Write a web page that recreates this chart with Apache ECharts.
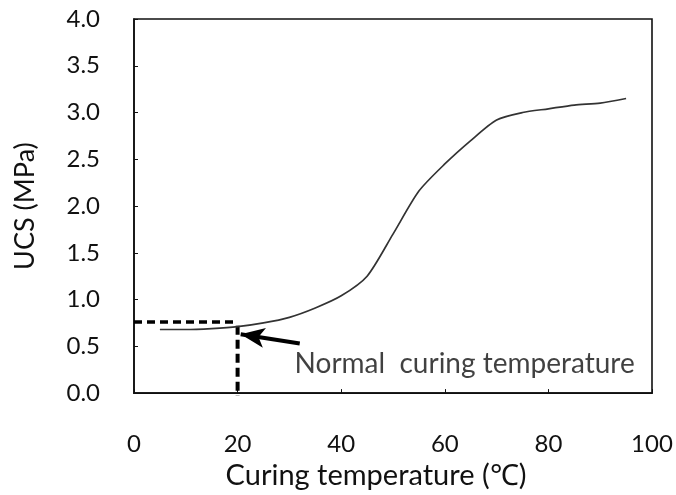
<!DOCTYPE html>
<html>
<head>
<meta charset="utf-8">
<script src="https://cdn.jsdelivr.net/npm/echarts@6/dist/echarts.min.js"></script>
<style>
html,body{margin:0;padding:0;background:#fff;}
#chart{width:676px;height:495px;}
</style>
</head>
<body>
<div id="chart"></div>
<script>
// Data
const temperature = [5, 10, 15, 20, 25, 30, 35, 40, 45, 50, 55, 60, 65, 70, 75, 80, 85, 90, 95];
const ucs = [0.68, 0.68, 0.69, 0.71, 0.75, 0.81, 0.91, 1.04, 1.25, 1.70, 2.16, 2.45, 2.70, 2.92, 3.00, 3.04, 3.08, 3.10, 3.15];
const xTicks = { min: 0, max: 100, interval: 20 };
const yTicks = { min: 0, max: 4, interval: 0.5 };
const hDash = [[0, 0.76], [20, 0.76]];
const vDash = [[20, 0.72], [20, -0.03]];
const arrowTail = [32, 0.53];
const arrowTip = [20.6, 0.63];
const noteText = 'Normal  curing temperature';
const noteAt = [31, 0.31];
const xTitle = 'Curing temperature (\u2103)';
const yTitle = 'UCS (MPa)';

const FONT = 'Lato';
const TXT = '#111';
const chart = echarts.init(document.getElementById('chart'), null, {renderer: 'canvas'});
chart.setOption({
  animation: false,
  backgroundColor: '#fff',
  grid: {left: 134, right: 24, top: 19, bottom: 98, show: true, borderColor: '#111', borderWidth: 1.6, containLabel: false},
  xAxis: {
    type: 'value', min: xTicks.min, max: xTicks.max, interval: xTicks.interval,
    name: xTitle, nameLocation: 'middle', nameGap: 55,
    nameTextStyle: {fontFamily: FONT, fontSize: 29, color: TXT, padding: [0, 34, 0, 0]},
    axisLine: {show: true, lineStyle: {color: '#111', width: 1.6}},
    axisTick: {show: true, inside: true, length: 4, lineStyle: {color: '#111'}},
    axisLabel: {margin: 39, fontFamily: FONT, fontSize: 24, color: TXT},
    splitLine: {show: false}
  },
  yAxis: {
    type: 'value', min: yTicks.min, max: yTicks.max, interval: yTicks.interval,
    name: yTitle, nameLocation: 'middle', nameGap: 95,
    nameTextStyle: {fontFamily: FONT, fontSize: 27, color: TXT},
    axisLine: {show: true, lineStyle: {color: '#111', width: 1.6}},
    axisTick: {show: true, inside: true, length: 4, lineStyle: {color: '#111'}},
    axisLabel: {margin: 34, fontFamily: FONT, fontSize: 24, color: TXT, formatter: v => v.toFixed(1)},
    splitLine: {show: false}
  },
  series: [
    {
      type: 'line',
      data: temperature.map((t, i) => [t, ucs[i]]),
      showSymbol: false,
      smooth: 0.25,
      lineStyle: {color: '#333', width: 1.7},
      z: 3
    },
    {
      type: 'line', data: hDash, showSymbol: false, clip: false,
      lineStyle: {color: '#000', width: 3.5, type: [8, 5]}, z: 2
    },
    {
      type: 'line', data: vDash, showSymbol: false, clip: false,
      lineStyle: {color: '#000', width: 4, type: [9, 5]}, z: 2
    },
    {
      type: 'line',
      data: [],
      markLine: {
        silent: true,
        symbol: ['none', 'arrow'],
        symbolSize: [15, 24],
        label: {show: false},
        lineStyle: {color: '#000', width: 4, type: 'solid'},
        data: [[{coord: arrowTail}, {coord: arrowTip}]]
      }
    },
    {
      type: 'scatter',
      symbolSize: 0,
      data: [noteAt],
      label: {show: true, position: 'right', distance: 0, formatter: noteText,
        fontFamily: FONT, fontSize: 28, color: TXT}
    }
  ]
});
</script>
</body>
</html>
